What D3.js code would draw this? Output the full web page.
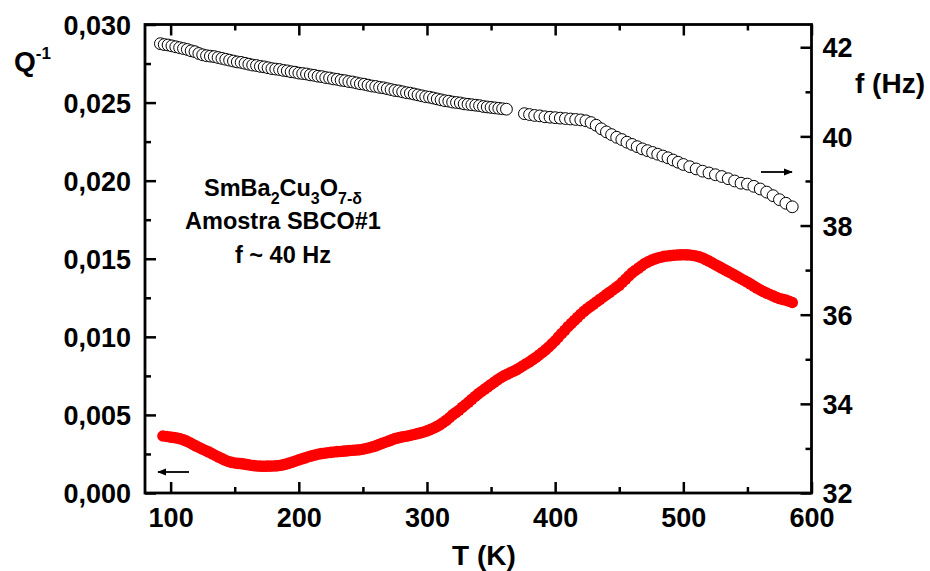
<!DOCTYPE html>
<html><head><meta charset="utf-8">
<script src="https://cdn.jsdelivr.net/npm/d3@7"></script>
<style>body{margin:0;background:#fff}svg{display:block}text{font-family:"Liberation Sans",Arial,sans-serif;font-weight:bold}</style>
</head><body>
<svg id="c" width="930" height="571"></svg>
<script>
// Q^-1 (left axis, red filled dots) – readings at 5 K steps
const qT = [94,100,105,110,115,120,125,130,135,140,145,150,155,160,165,170,175,180,185,190,195,200,205,210,215,220,225,230,235,240,245,250,255,260,265,270,275,280,285,290,295,300,305,310,315,320,325,330,335,340,345,350,355,360,365,370,375,380,385,390,395,400,405,410,415,420,425,430,435,440,445,450,455,460,465,470,475,480,485,490,495,500,505,510,515,520,525,530,535,540,545,550,555,560,565,570,575,580,585];
const qVal = [0.00365,0.00358,0.00352,0.00340,0.00322,0.00300,0.00280,0.00262,0.00240,0.00220,0.00202,0.00192,0.00188,0.00182,0.00175,0.00172,0.00172,0.00173,0.00176,0.00185,0.00198,0.00212,0.00225,0.00238,0.00248,0.00255,0.00260,0.00265,0.00268,0.00272,0.00275,0.00280,0.00290,0.00302,0.00318,0.00332,0.00348,0.00358,0.00365,0.00375,0.00385,0.00398,0.00415,0.00436,0.00465,0.00500,0.00530,0.00565,0.00600,0.00635,0.00665,0.00695,0.00725,0.00750,0.00770,0.00790,0.00815,0.00840,0.00868,0.00900,0.00935,0.00975,0.01020,0.01065,0.01105,0.01145,0.01180,0.01210,0.01240,0.01270,0.01300,0.01330,0.01370,0.01410,0.01440,0.01470,0.01490,0.01505,0.01515,0.01520,0.01524,0.01526,0.01524,0.01518,0.01505,0.01485,0.01462,0.01440,0.01418,0.01395,0.01372,0.01350,0.01325,0.01300,0.01280,0.01262,0.01245,0.01235,0.01220];
// Q^-1 readings between the above points
const qT2 = [97,102.5,107.5,112.5,117.5,122.5,127.5,132.5,137.5,142.5,147.5,152.5,157.5,162.5,167.5,172.5,177.5,182.5,187.5,192.5,197.5,202.5,207.5,212.5,217.5,222.5,227.5,232.5,237.5,242.5,247.5,252.5,257.5,262.5,267.5,272.5,277.5,282.5,287.5,292.5,297.5,302.5,307.5,312.5,317.5,322.5,327.5,332.5,337.5,342.5,347.5,352.5,357.5,362.5,367.5,372.5,377.5,382.5,387.5,392.5,397.5,402.5,407.5,412.5,417.5,422.5,427.5,432.5,437.5,442.5,447.5,452.5,457.5,462.5,467.5,472.5,477.5,482.5,487.5,492.5,497.5,502.5,507.5,512.5,517.5,522.5,527.5,532.5,537.5,542.5,547.5,552.5,557.5,562.5,567.5,572.5,577.5,582.5];
const qVal2 = [0.00362,0.00355,0.00347,0.00332,0.00311,0.00290,0.00271,0.00251,0.00230,0.00210,0.00196,0.00190,0.00185,0.00178,0.00173,0.00171,0.00172,0.00174,0.00180,0.00191,0.00205,0.00219,0.00232,0.00243,0.00252,0.00258,0.00263,0.00266,0.00270,0.00274,0.00277,0.00285,0.00296,0.00310,0.00325,0.00340,0.00353,0.00362,0.00370,0.00380,0.00391,0.00406,0.00425,0.00450,0.00482,0.00515,0.00548,0.00582,0.00618,0.00650,0.00680,0.00710,0.00738,0.00760,0.00780,0.00802,0.00828,0.00854,0.00884,0.00917,0.00955,0.00998,0.01042,0.01085,0.01125,0.01163,0.01195,0.01225,0.01255,0.01285,0.01315,0.01350,0.01390,0.01425,0.01455,0.01480,0.01498,0.01510,0.01518,0.01522,0.01525,0.01525,0.01521,0.01512,0.01495,0.01474,0.01451,0.01429,0.01407,0.01384,0.01361,0.01338,0.01312,0.01290,0.01271,0.01253,0.01240,0.01228];
// f (right axis, open circles)
const fT = [92,95,98,101,104,107,110,113,116,119,122,125,128,131,134,137,140,143,146,149,152,155,158,161,164,167,170,173,176,179,182,185,188,191,194,197,200,203,206,209,212,215,218,221,224,227,230,233,236,239,242,245,248,251,254,257,260,263,266,269,272,275,278,281,284,287,290,293,296,299,302,305,308,311,314,317,320,323,326,329,332,335,338,341,344,347,350,353,356,359,362,
376,380,384,388,392,396,400,404,408,412,416,420,424,428,432,436,440,444,448,452,456,460,464,468,472,476,480,484,488,492,496,500,505,510,515,520,525,530,535,540,545,550,555,560,565,570,575,580,585];
const fVal = [42.08,42.06,42.05,42.03,42.01,41.99,41.97,41.95,41.92,41.90,41.86,41.83,41.81,41.80,41.79,41.77,41.75,41.73,41.71,41.69,41.67,41.66,41.64,41.62,41.60,41.59,41.57,41.56,41.54,41.52,41.51,41.50,41.48,41.47,41.45,41.44,41.42,41.41,41.40,41.38,41.37,41.35,41.34,41.32,41.31,41.29,41.28,41.26,41.25,41.23,41.22,41.20,41.18,41.17,41.15,41.13,41.12,41.10,41.09,41.07,41.05,41.03,41.02,41.00,40.98,40.97,40.95,40.93,40.91,40.89,40.88,40.86,40.84,40.82,40.80,40.79,40.77,40.76,40.75,40.73,40.72,40.71,40.70,40.69,40.67,40.66,40.65,40.64,40.63,40.62,40.61,
40.51,40.49,40.47,40.46,40.44,40.43,40.42,40.41,40.40,40.39,40.38,40.37,40.35,40.31,40.25,40.17,40.10,40.04,39.98,39.93,39.87,39.82,39.77,39.72,39.68,39.64,39.60,39.56,39.52,39.47,39.42,39.37,39.32,39.27,39.22,39.18,39.14,39.10,39.05,39.00,38.95,38.93,38.88,38.82,38.75,38.67,38.58,38.50,38.42];
const xTicks = [100,200,300,400,500,600];
const qTicks = [0,0.005,0.010,0.015,0.020,0.025,0.030];
const fTicks = [32,34,36,38,40,42];

const svg = d3.select("#c");
const L=145, R=811.5, T=24.5, B=493;
const x = d3.scaleLinear().domain([80,600]).range([L,R]);
const yQ = d3.scaleLinear().domain([0,0.030]).range([B,T]);
const yF = d3.scaleLinear().domain([32,42.51]).range([B,T]);
const fmtQ = v => d3.format(".3f")(v).replace(".",",");
const FS = 27;

const qPts = qT.map((t,i)=>[t,qVal[i]]).concat(qT2.map((t,i)=>[t,qVal2[i]])).sort((a,b)=>a[0]-b[0]);

// data: f open circles
svg.append("g").selectAll("circle").data(fT).join("circle")
  .attr("cx",(d)=>x(d)).attr("cy",(d,i)=>yF(fVal[i])).attr("r",5.9)
  .attr("fill","#fff").attr("stroke","#000").attr("stroke-width",1);
// Q red dots
svg.append("g").selectAll("circle").data(qPts).join("circle")
  .attr("cx",d=>x(d[0])).attr("cy",d=>yQ(d[1])).attr("r",5.8)
  .attr("fill","#ff0000");

// axes (ticks inward)
function styleAxis(g){g.select(".domain").remove();g.selectAll("line").attr("stroke","#000").attr("stroke-width",2.5);}
const xMinor = d3.range(150,600,100);
svg.append("g").attr("transform",`translate(0,${B})`).call(d3.axisBottom(x).tickValues(xTicks).tickSize(-11).tickPadding(34).tickFormat(d3.format("d")))
  .call(styleAxis).call(g=>g.selectAll("text").attr("font-size",FS).attr("fill","#000").attr("dy","0"));
svg.append("g").attr("transform",`translate(0,${B})`).call(d3.axisBottom(x).tickValues(xMinor).tickSize(-6).tickFormat(""))
  .call(styleAxis);
svg.append("g").attr("transform",`translate(0,${T})`).call(d3.axisTop(x).tickValues(xTicks).tickSize(-11).tickFormat(""))
  .call(styleAxis);
svg.append("g").attr("transform",`translate(0,${T})`).call(d3.axisTop(x).tickValues(xMinor).tickSize(-6).tickFormat(""))
  .call(styleAxis);
svg.append("g").attr("transform",`translate(${L},0)`).call(d3.axisLeft(yQ).tickValues(qTicks).tickSize(-11).tickPadding(14).tickFormat(fmtQ))
  .call(styleAxis).call(g=>g.selectAll("text").attr("font-size",FS).attr("fill","#000").attr("dy","0.36em"));
svg.append("g").attr("transform",`translate(${L},0)`).call(d3.axisLeft(yQ).tickValues(d3.range(0.0025,0.030,0.005)).tickSize(-6).tickFormat(""))
  .call(styleAxis);
svg.append("g").attr("transform",`translate(${R},0)`).call(d3.axisRight(yF).tickValues(fTicks).tickSize(-11).tickPadding(11).tickFormat(d3.format("d")))
  .call(styleAxis).call(g=>g.selectAll("text").attr("font-size",FS).attr("fill","#000").attr("dy","0.36em"));
svg.append("g").attr("transform",`translate(${R},0)`).call(d3.axisRight(yF).tickValues([33,35,37,39,41]).tickSize(-6).tickFormat(""))
  .call(styleAxis);
// frame
svg.append("rect").attr("x",L).attr("y",T).attr("width",R-L).attr("height",B-T)
  .attr("fill","none").attr("stroke","#000").attr("stroke-width",2.8);

// axis titles
svg.append("text").attr("x",484).attr("y",565).attr("text-anchor","middle").attr("font-size",28).text("T (K)");
const q = svg.append("text").attr("x",14).attr("y",71).attr("font-size",28);
q.append("tspan").text("Q");
q.append("tspan").attr("dy",-12).attr("font-size",17).text("-1");
svg.append("text").attr("x",890).attr("y",93).attr("text-anchor","middle").attr("font-size",28).text("f (Hz)");

// annotation
const a1 = svg.append("text").attr("x",283).attr("y",196).attr("text-anchor","middle").attr("font-size",23.5);
a1.append("tspan").text("SmBa");
a1.append("tspan").attr("font-size",16).attr("dy",8).text("2");
a1.append("tspan").attr("dy",-8).text("Cu");
a1.append("tspan").attr("font-size",16).attr("dy",8).text("3");
a1.append("tspan").attr("dy",-8).text("O");
a1.append("tspan").attr("font-size",16).attr("dy",8).text("7-δ");
svg.append("text").attr("x",283).attr("y",229).attr("text-anchor","middle").attr("font-size",23.5).text("Amostra SBCO#1");
svg.append("text").attr("x",283).attr("y",263).attr("text-anchor","middle").attr("font-size",23.5).text("f ~ 40 Hz");

// arrows
const defs = svg.append("defs");
defs.append("marker").attr("id","ah").attr("viewBox","0 0 10 10").attr("refX",9).attr("refY",5)
  .attr("markerWidth",5).attr("markerHeight",5).attr("orient","auto").attr("markerUnits","strokeWidth")
  .append("path").attr("d","M0,1L10,5L0,9z").attr("fill","#000");
svg.append("line").attr("x1",189).attr("y1",472).attr("x2",158).attr("y2",472)
  .attr("stroke","#000").attr("stroke-width",1.8).attr("marker-end","url(#ah)");
svg.append("line").attr("x1",761).attr("y1",172).attr("x2",792).attr("y2",172)
  .attr("stroke","#000").attr("stroke-width",1.8).attr("marker-end","url(#ah)");
</script>
</body></html>
